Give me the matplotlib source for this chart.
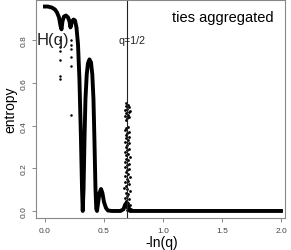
import matplotlib
matplotlib.use("Agg")
import matplotlib.pyplot as plt

plt.rcParams['font.family'] = ['Liberation Sans', 'DejaVu Sans']

# main entropy curve
curve_x = [0.0, 0.025, 0.059, 0.085, 0.102, 0.119, 0.131, 0.140, 0.148, 0.161,
           0.178, 0.195, 0.208, 0.216, 0.229, 0.242, 0.254, 0.267, 0.280, 0.292,
           0.305, 0.314, 0.320, 0.327, 0.335, 0.343, 0.354, 0.364, 0.377, 0.390,
           0.401, 0.411, 0.419, 0.428, 0.435, 0.441, 0.449, 0.462, 0.475, 0.487,
           0.500, 0.517, 0.534, 0.568, 0.640, 0.665, 0.680, 0.693, 0.705, 0.720,
           1.0, 1.5, 2.0]
curve_y = [0.959, 0.959, 0.954, 0.945, 0.931, 0.908, 0.870, 0.852, 0.889, 0.912,
           0.917, 0.908, 0.889, 0.861, 0.889, 0.898, 0.894, 0.861, 0.781, 0.618,
           0.337, 0.103, 0.0, 0.103, 0.337, 0.524, 0.641, 0.692, 0.711, 0.697,
           0.641, 0.524, 0.337, 0.103, 0.009, 0.0, 0.033, 0.084, 0.103, 0.084,
           0.042, 0.014, 0.002, 0.0, 0.0, 0.008, 0.03, 0.04, 0.02, 0.0,
           0.0, 0.0, 0.0]

# stray points below the two cusps
cusp_x = [0.131, 0.131, 0.131, 0.131, 0.131, 0.131,
          0.220, 0.220, 0.220, 0.220, 0.220, 0.220]
cusp_y = [0.80, 0.77, 0.75, 0.71, 0.635, 0.62,
          0.80, 0.78, 0.76, 0.72, 0.68, 0.45]

# scattered points around q=1/2
pts = [(0.690, 0.505), (0.702, 0.498), (0.684, 0.492), (0.708, 0.486), (0.695, 0.480),
       (0.680, 0.472), (0.712, 0.466), (0.688, 0.458), (0.700, 0.450), (0.676, 0.447),
       (0.716, 0.442), (0.693, 0.436), (0.684, 0.428), (0.722, 0.470), (0.705, 0.395),
       (0.690, 0.388), (0.678, 0.380), (0.710, 0.372), (0.698, 0.364), (0.684, 0.356),
       (0.715, 0.348), (0.690, 0.340), (0.702, 0.332), (0.680, 0.325), (0.708, 0.317),
       (0.694, 0.309), (0.686, 0.300), (0.713, 0.292), (0.699, 0.285), (0.678, 0.277),
       (0.705, 0.269), (0.690, 0.261), (0.717, 0.253), (0.684, 0.246), (0.700, 0.238),
       (0.675, 0.230), (0.709, 0.222), (0.692, 0.214), (0.682, 0.206), (0.714, 0.198),
       (0.697, 0.190), (0.686, 0.182), (0.706, 0.174), (0.678, 0.166), (0.718, 0.158),
       (0.693, 0.150), (0.703, 0.142), (0.681, 0.134), (0.711, 0.126), (0.690, 0.118),
       (0.673, 0.110), (0.699, 0.102), (0.720, 0.094), (0.684, 0.086), (0.707, 0.078),
       (0.692, 0.070), (0.677, 0.062), (0.715, 0.054), (0.688, 0.046), (0.701, 0.038),
       (0.670, 0.030), (0.724, 0.026), (0.683, 0.020), (0.711, 0.014), (0.665, 0.010),
       (0.730, 0.008), (0.695, 0.005)]
scat_x = [p[0] for p in pts]
scat_y = [p[1] for p in pts]

xticks = [0.0, 0.5, 1.0, 1.5, 2.0]
yticks = [0.0, 0.2, 0.4, 0.6, 0.8]

fig = plt.figure(figsize=(2.91, 2.51), dpi=100)
ax = fig.add_axes([36 / 291, 32 / 251, 249 / 291, 218.5 / 251])

ax.plot(curve_x, curve_y, color='black', lw=2.8, solid_joinstyle='round')
ax.plot(cusp_x, cusp_y, 'o', color='black', ms=1.8, mew=0)
ax.plot(scat_x, scat_y, 'o', color='black', ms=2.0, mew=0)
ax.axvline(0.6931, color='#222222', lw=0.8)

ax.set_xlim(-0.076, 2.034)
ax.set_ylim(-0.033, 0.992)

for s in ax.spines.values():
    s.set_color('#888888')
    s.set_linewidth(0.8)

ax.set_xticks(xticks)
ax.set_xticklabels(['%.1f' % v for v in xticks])
ax.set_yticks(yticks)
ax.set_yticklabels(['%.1f' % v for v in yticks], rotation=90, va='center')
ax.tick_params(direction='out', length=3.2, width=0.7, color='#888888',
               labelsize=6, labelcolor='#444444', pad=3)

ax.text(-0.068, 0.805, 'H(q)', fontsize=12, color='#222222', ha='left', va='center')
ax.text(0.619, 0.80, 'q=1/2', fontsize=7.7, color='#222222', ha='left', va='center')
ax.text(1.076, 0.912, 'ties aggregated', fontsize=10.5, color='black', ha='left', va='center')

fig.text(10 / 291, 1 - 110 / 251, 'entropy', rotation=90, fontsize=10, ha='center', va='center')
fig.text(162 / 291, 1 - 243 / 251, '-ln(q)', fontsize=10, ha='center', va='center')

fig.savefig('out.png', dpi=100)
